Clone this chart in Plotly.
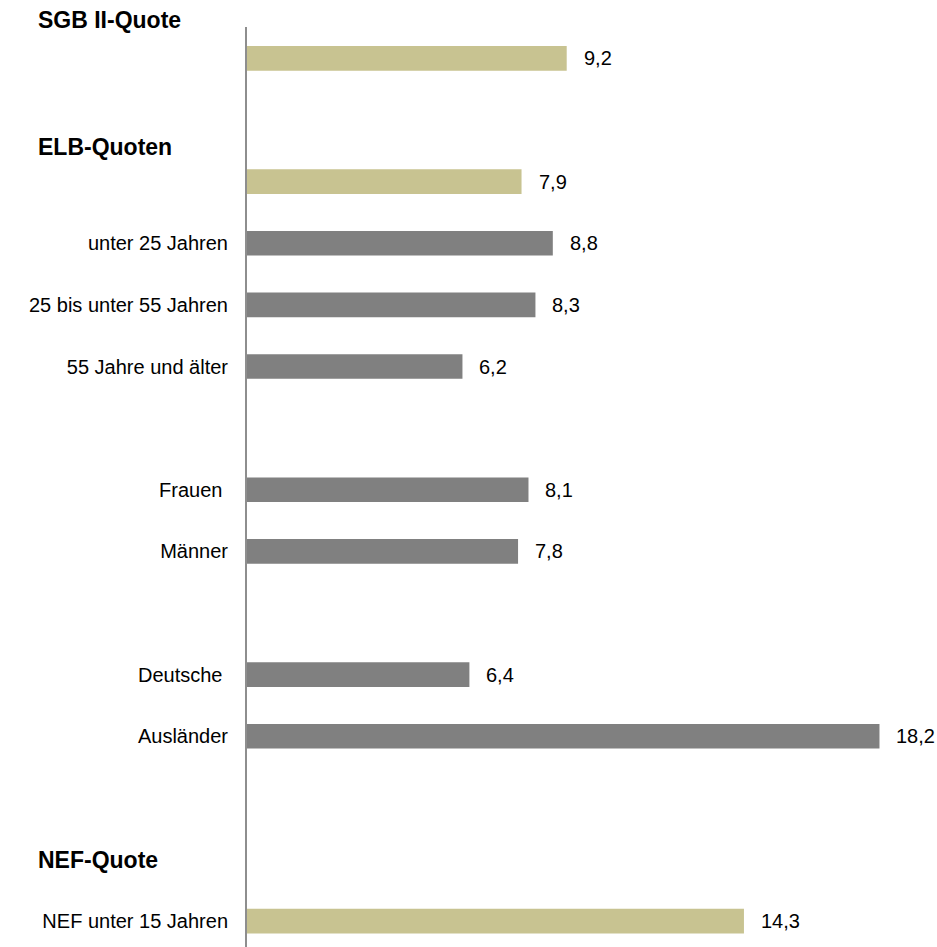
import plotly.graph_objects as go

# Data (top to bottom rows)
row_labels = ["", "", "", "unter 25 Jahren", "25 bis unter 55 Jahren", "55 Jahre und älter", "",
              "Frauen\u00a0", "Männer", "", "Deutsche\u00a0", "Ausländer", "", "", "NEF unter 15 Jahren"]
values = [9.2, None, 7.9, 8.8, 8.3, 6.2, None, 8.1, 7.8, None, 6.4, 18.2, None, None, 14.3]
groups = ["total", None, "total", "sub", "sub", "sub", None, "sub", "sub", None, "sub", "sub", None, None, "total"]
headers = ["SGB II-Quote", "ELB-Quoten", "NEF-Quote"]
header_rows = [None, 1.44, 13.0]

TAN = "#C8C391"
GRAY = "#808080"
FONT = "Liberation Sans, Arial, sans-serif"

rows = list(range(len(row_labels)))
bar_rows = [r for r, v in zip(rows, values) if v is not None]
bar_vals = [v for v in values if v is not None]
bar_cols = [TAN if g == "total" else GRAY for g, v in zip(groups, values) if v is not None]

fig = go.Figure()
fig.add_trace(go.Bar(
    x=bar_vals, y=bar_rows, orientation="h",
    marker=dict(color=bar_cols, line=dict(width=0)),
    width=0.4, hoverinfo="skip", showlegend=False,
))

annotations = []
for r, v in zip(bar_rows, bar_vals):
    annotations.append(dict(
        x=v, y=r, xref="x", yref="y", text=f"{v:.1f}".replace(".", ","),
        showarrow=False, xanchor="left", yanchor="middle", xshift=15,
        font=dict(family=FONT, size=20, color="#000000"),
    ))
for h, r in zip(headers, header_rows):
    if r is None:
        pos = dict(y=1, yref="paper", yshift=7)
    else:
        pos = dict(y=r, yref="y")
    annotations.append(dict(
        x=0, xref="paper", text=f"<b>{h}</b>",
        showarrow=False, xanchor="left", yanchor="middle", xshift=-211,
        font=dict(family=FONT, size=23, color="#000000"), **pos,
    ))

fig.update_layout(
    width=937, height=947,
    margin=dict(l=247, r=12, t=27, b=0),
    paper_bgcolor="white", plot_bgcolor="white",
    bargap=0.6,
    annotations=annotations,
    xaxis=dict(range=[0, 19.51], showgrid=False, zeroline=False, showticklabels=False,
               showline=False, ticks=""),
    yaxis=dict(range=[14.42, -0.51], tickvals=rows, ticktext=row_labels,
               showgrid=False, zeroline=False, showline=True, linecolor="#8e8e8e", linewidth=2,
               ticks="outside", ticklen=13, tickcolor="rgba(0,0,0,0)",
               tickfont=dict(family=FONT, size=20, color="#000000")),
)

fig.write_html(
    "out.html",
    config={"displayModeBar": False},
    post_script="document.body.style.margin='0';document.body.style.overflow='hidden';",
)
